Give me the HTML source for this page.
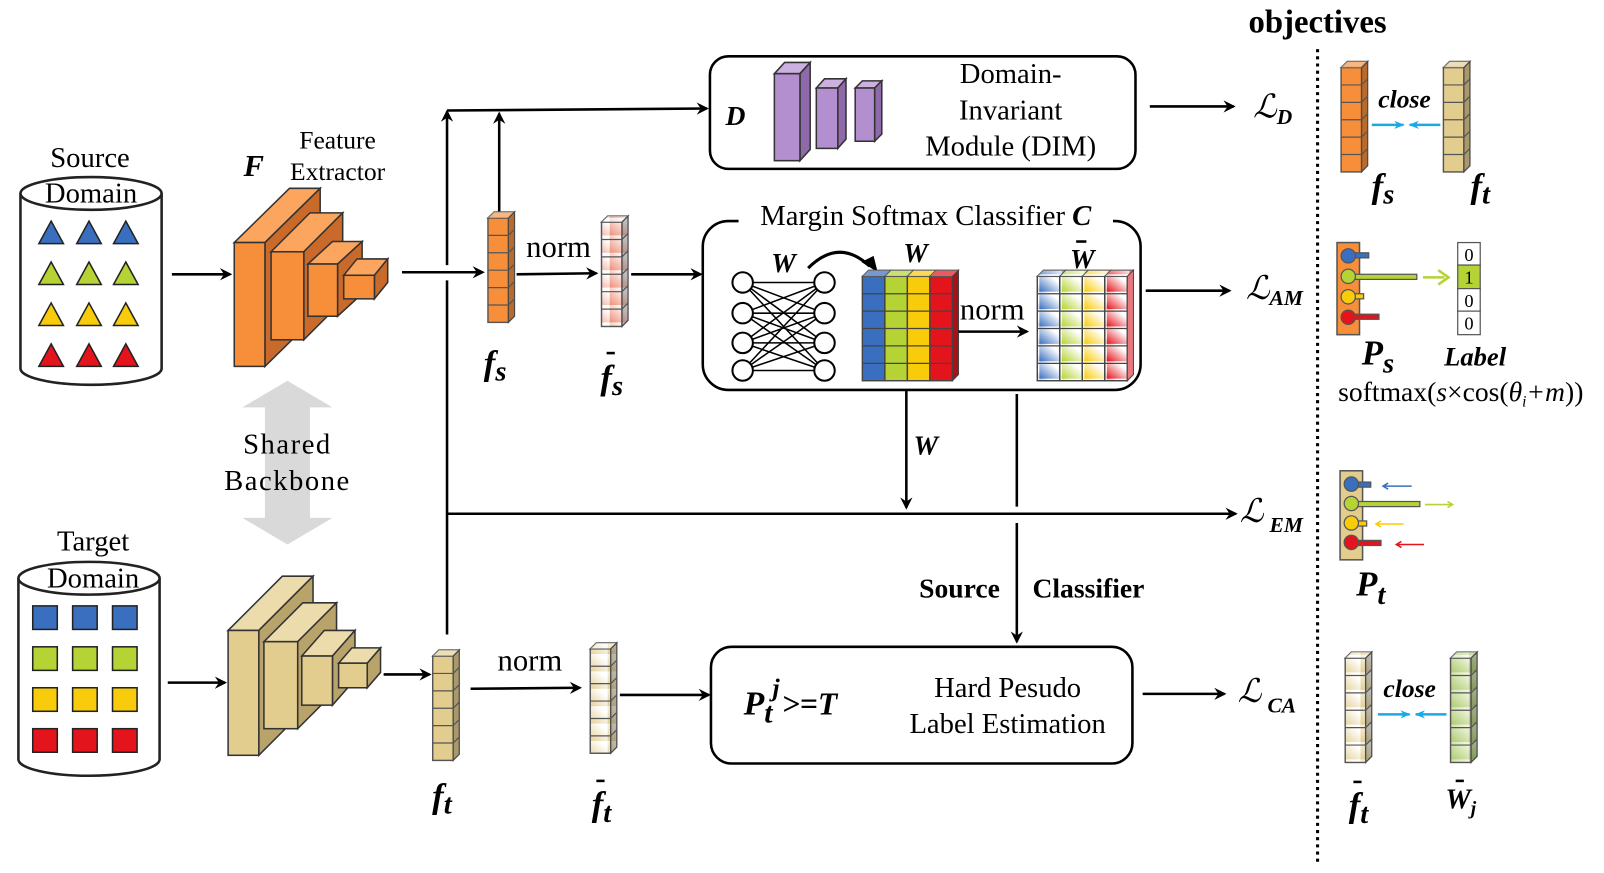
<!DOCTYPE html>
<html><head><meta charset="utf-8"><style>
html,body{margin:0;padding:0;background:#fff;}
svg{display:block;}
text{font-family:"Liberation Serif","Times New Roman",serif;fill:#000;}
.bi{font-weight:bold;font-style:italic;}
.b{font-weight:bold;}
</style></head><body>
<svg width="1604" height="873" viewBox="0 0 1568 853" preserveAspectRatio="none" xmlns="http://www.w3.org/2000/svg">
<defs>
<marker id="ah" markerWidth="12" markerHeight="12" refX="10" refY="6" orient="auto" markerUnits="userSpaceOnUse">
<path d="M0,0 L12,6 L0,12 L4,6 Z" fill="#000"/></marker>
<marker id="ahb" markerWidth="10" markerHeight="8" refX="9" refY="4" orient="auto" markerUnits="userSpaceOnUse">
<path d="M0,0 L10,4 L0,8 L3,4 Z" fill="#19a9e6"/></marker>
<symbol id="col" overflow="visible">
<rect x="0" y="0" width="20" height="102" stroke="#555" stroke-width="1.4"/>
<polygon points="0,0 6,-6 26,-6 20,0" stroke="#555" stroke-width="1.2"/>
<polygon points="0,0 6,-6 26,-6 20,0" fill="#fff" fill-opacity=".35"/>
<polygon points="20,0 26,-6 26,96 20,102" stroke="#555" stroke-width="1.2"/>
<polygon points="20,0 26,-6 26,96 20,102" fill="#000" fill-opacity=".25"/>
<path d="M0,17H20M0,34H20M0,51H20M0,68H20M0,85H20M20,17l6,-6M20,34l6,-6M20,51l6,-6M20,68l6,-6M20,85l6,-6" stroke="#555" stroke-width="1.2" fill="none"/>
</symbol>
<symbol id="mcol" overflow="visible">
<rect x="0" y="0" width="22" height="102" stroke="#444" stroke-width="1.4"/>
<polygon points="0,0 6,-6 28,-6 22,0" stroke="#444" stroke-width="1"/>
<polygon points="0,0 6,-6 28,-6 22,0" fill="#fff" fill-opacity=".3"/>
<path d="M0,17H22M0,34H22M0,51H22M0,68H22M0,85H22" stroke="#444" stroke-width="1.2" fill="none"/>
</symbol>
<linearGradient id="gB" x1="0" y1="1" x2="1" y2="0"><stop offset="0" stop-color="#3a6fbf"/><stop offset=".7" stop-color="#fff"/></linearGradient>
<linearGradient id="gG" x1="0" y1="1" x2="1" y2="0"><stop offset="0" stop-color="#b5d334"/><stop offset=".7" stop-color="#fff"/></linearGradient>
<linearGradient id="gY" x1="0" y1="1" x2="1" y2="0"><stop offset="0" stop-color="#f8cc0a"/><stop offset=".7" stop-color="#fff"/></linearGradient>
<linearGradient id="gR" x1="0" y1="1" x2="1" y2="0"><stop offset="0" stop-color="#e4141d"/><stop offset=".7" stop-color="#fff"/></linearGradient>
<linearGradient id="gS" x1="0" y1="1" x2="1" y2="0"><stop offset="0" stop-color="#ee8f77"/><stop offset=".8" stop-color="#fff"/></linearGradient>
<linearGradient id="gT" x1="0" y1="1" x2="1" y2="0"><stop offset="0" stop-color="#e2cc8e"/><stop offset=".8" stop-color="#fff"/></linearGradient>
<pattern id="pB" patternUnits="userSpaceOnUse" x="1014" y="270" width="22" height="17"><rect width="22" height="17" fill="url(#gB)"/></pattern>
<pattern id="pG" patternUnits="userSpaceOnUse" x="1036" y="270" width="22" height="17"><rect width="22" height="17" fill="url(#gG)"/></pattern>
<pattern id="pY" patternUnits="userSpaceOnUse" x="1058" y="270" width="22" height="17"><rect width="22" height="17" fill="url(#gY)"/></pattern>
<pattern id="pR" patternUnits="userSpaceOnUse" x="1080" y="270" width="22" height="17"><rect width="22" height="17" fill="url(#gR)"/></pattern>
<pattern id="pS" patternUnits="userSpaceOnUse" x="588" y="217" width="20" height="17"><rect width="20" height="17" fill="url(#gS)"/></pattern>
<pattern id="pT" patternUnits="userSpaceOnUse" x="577" y="634" width="20" height="17"><rect width="20" height="17" fill="url(#gT)"/></pattern>
<pattern id="pT2" patternUnits="userSpaceOnUse" x="1315" y="643" width="20" height="17"><rect width="20" height="17" fill="url(#gT)"/></pattern>
<linearGradient id="gW" x1="0" y1="1" x2="1" y2="0"><stop offset="0" stop-color="#a9c86a"/><stop offset=".9" stop-color="#eef5dc"/></linearGradient>
<pattern id="pW" patternUnits="userSpaceOnUse" x="1418" y="643" width="20" height="17"><rect width="20" height="17" fill="url(#gW)"/></pattern>
</defs>

<!-- Source domain -->
<text x="88" y="163" font-size="28" text-anchor="middle">Source</text>
<path d="M20,189 V360 A69,16 0 0 0 158,360 V189" fill="#fff" stroke="#222" stroke-width="2.5"/>
<ellipse cx="89" cy="189" rx="69" ry="16" fill="#fff" stroke="#222" stroke-width="2.5"/>
<text x="89" y="198" font-size="28" text-anchor="middle">Domain</text>
<g stroke="#222" stroke-width="1.5">
<g fill="#3a6fbf"><polygon points="38,238 50,216 62,238"/><polygon points="75,238 87,216 99,238"/><polygon points="111,238 123,216 135,238"/></g>
<g fill="#b5d334"><polygon points="38,278 50,256 62,278"/><polygon points="75,278 87,256 99,278"/><polygon points="111,278 123,256 135,278"/></g>
<g fill="#f8cc0a"><polygon points="38,318 50,296 62,318"/><polygon points="75,318 87,296 99,318"/><polygon points="111,318 123,296 135,318"/></g>
<g fill="#e4141d"><polygon points="38,358 50,336 62,358"/><polygon points="75,358 87,336 99,358"/><polygon points="111,358 123,336 135,358"/></g>
</g>
<line x1="168" y1="268" x2="225" y2="268" stroke="#000" stroke-width="2.5" marker-end="url(#ah)"/>

<!-- Orange extractor -->
<g stroke="#333" stroke-width="1.5">
<polygon points="229,237 283,184 313,184 259,237" fill="#fba55f"/><polygon points="259,237 313,184 313,305 259,358" fill="#c9692a"/><rect x="229" y="237" width="30" height="121" fill="#f78f3a"/>
<polygon points="265,246 303,208 335,208 297,246" fill="#fba55f"/><polygon points="297,246 335,208 335,294 297,332" fill="#c9692a"/><rect x="265" y="246" width="32" height="86" fill="#f78f3a"/>
<polygon points="301,258 325,236 354,236 330,258" fill="#fba55f"/><polygon points="330,258 354,236 354,287 330,309" fill="#c9692a"/><rect x="301" y="258" width="29" height="51" fill="#f78f3a"/>
<polygon points="336,269 349,253 379,253 366,269" fill="#fba55f"/><polygon points="366,269 379,253 379,276 366,292" fill="#c9692a"/><rect x="336" y="269" width="30" height="23" fill="#f78f3a"/>
</g>
<text x="248" y="172" font-size="30" class="bi" text-anchor="middle">F</text>
<text x="330" y="145" font-size="25" text-anchor="middle">Feature</text>
<text x="330" y="176" font-size="25" text-anchor="middle">Extractor</text>

<!-- Shared backbone -->
<polygon points="281,372 325,398 303,398 303,506 325,506 281,532 237,506 259,506 259,398 237,398" fill="#d9d9d9"/>
<text x="281" y="443" font-size="28" text-anchor="middle" letter-spacing="1.5">Shared</text>
<text x="281" y="479" font-size="28" text-anchor="middle" letter-spacing="1.5">Backbone</text>

<!-- Target domain -->
<text x="91" y="538" font-size="28" text-anchor="middle">Target</text>
<path d="M18,565 V742 A69,16 0 0 0 156,742 V565" fill="#fff" stroke="#222" stroke-width="2.5"/>
<ellipse cx="87" cy="565" rx="69" ry="16" fill="#fff" stroke="#222" stroke-width="2.5"/>
<text x="91" y="574" font-size="28" text-anchor="middle">Domain</text>
<g stroke="#222" stroke-width="1.5">
<g fill="#3a6fbf"><rect x="32" y="592" width="24" height="23"/><rect x="71" y="592" width="24" height="23"/><rect x="110" y="592" width="24" height="23"/></g>
<g fill="#b5d334"><rect x="32" y="632" width="24" height="23"/><rect x="71" y="632" width="24" height="23"/><rect x="110" y="632" width="24" height="23"/></g>
<g fill="#f8cc0a"><rect x="32" y="672" width="24" height="23"/><rect x="71" y="672" width="24" height="23"/><rect x="110" y="672" width="24" height="23"/></g>
<g fill="#e4141d"><rect x="32" y="712" width="24" height="23"/><rect x="71" y="712" width="24" height="23"/><rect x="110" y="712" width="24" height="23"/></g>
</g>
<line x1="164" y1="667" x2="220" y2="667" stroke="#000" stroke-width="2.5" marker-end="url(#ah)"/>

<!-- Tan extractor -->
<g stroke="#333" stroke-width="1.5">
<polygon points="223,616 276,563 306,563 253,616" fill="#ecdcac"/><polygon points="253,616 306,563 306,685 253,738" fill="#b8a36b"/><rect x="223" y="616" width="30" height="122" fill="#e2cc8e"/>
<polygon points="258,627 296,589 329,589 291,627" fill="#ecdcac"/><polygon points="291,627 329,589 329,674 291,712" fill="#b8a36b"/><rect x="258" y="627" width="33" height="85" fill="#e2cc8e"/>
<polygon points="295,641 317,616 347,616 325,641" fill="#ecdcac"/><polygon points="325,641 347,616 347,664 325,689" fill="#b8a36b"/><rect x="295" y="641" width="30" height="48" fill="#e2cc8e"/>
<polygon points="331,648 344,633 372,633 359,648" fill="#ecdcac"/><polygon points="359,648 372,633 372,657 359,672" fill="#b8a36b"/><rect x="331" y="648" width="28" height="24" fill="#e2cc8e"/>
</g>
<line x1="375" y1="659" x2="420" y2="659" stroke="#000" stroke-width="2.5" marker-end="url(#ah)"/>

<!-- connectors -->
<g stroke="#000" stroke-width="2.5" fill="none">
<line x1="393" y1="266" x2="472" y2="266" marker-end="url(#ah)"/>
<line x1="437" y1="620" x2="437" y2="274"/>
<line x1="437" y1="259" x2="437" y2="109" marker-end="url(#ah)"/>
<line x1="437" y1="108" x2="691" y2="106" marker-end="url(#ah)"/>
<line x1="488" y1="210" x2="488" y2="111" marker-end="url(#ah)"/>
<line x1="437" y1="502" x2="1208" y2="502" marker-end="url(#ah)"/>
<line x1="505" y1="268" x2="583" y2="267" marker-end="url(#ah)"/>
<line x1="617" y1="268" x2="685" y2="268" marker-end="url(#ah)"/>
<line x1="1124" y1="104" x2="1206" y2="104" marker-end="url(#ah)"/>
<line x1="1120" y1="284" x2="1202" y2="284" marker-end="url(#ah)"/>
<line x1="886" y1="382" x2="886" y2="496" marker-end="url(#ah)"/>
<line x1="994" y1="385" x2="994" y2="495"/>
<line x1="994" y1="511" x2="994" y2="627" marker-end="url(#ah)"/>
<line x1="1117" y1="678" x2="1197" y2="678" marker-end="url(#ah)"/>
<line x1="460" y1="673" x2="567" y2="672" marker-end="url(#ah)"/>
<line x1="606" y1="679" x2="693" y2="679" marker-end="url(#ah)"/>
</g>

<!-- feature columns -->
<use href="#col" x="477" y="213" fill="#f78f3a"/>
<text x="484" y="366" font-size="34" class="bi" text-anchor="middle">f<tspan font-size="28" dy="6">s</tspan></text>
<text x="546" y="251" font-size="30" text-anchor="middle">norm</text>
<use href="#col" x="588" y="217" fill="url(#pS)"/>
<text x="598" y="380" font-size="34" class="bi" text-anchor="middle">f<tspan font-size="28" dy="6">s</tspan></text>
<line x1="593" y1="345" x2="601" y2="345" stroke="#000" stroke-width="2.5"/>

<use href="#col" x="423" y="641" fill="#e2cc8e"/>
<text x="432" y="789" font-size="34" class="bi" text-anchor="middle">f<tspan font-size="28" dy="6">t</tspan></text>
<text x="518" y="655" font-size="30" text-anchor="middle">norm</text>
<use href="#col" x="577" y="634" fill="url(#pT)"/>
<text x="588" y="797" font-size="34" class="bi" text-anchor="middle">f<tspan font-size="28" dy="6">t</tspan></text>
<line x1="583" y1="763" x2="591" y2="763" stroke="#000" stroke-width="2.5"/>

<!-- D box -->
<rect x="694" y="55" width="416" height="110" rx="18" fill="#fff" stroke="#000" stroke-width="2.5"/>
<text x="719" y="122" font-size="27" class="bi" text-anchor="middle">D</text>
<g stroke="#333" stroke-width="1.5">
<polygon points="757,72 767,61 792,61 782,72" fill="#cbb0e0"/><polygon points="782,72 792,61 792,146 782,157" fill="#8f6aab"/><rect x="757" y="72" width="25" height="85" fill="#b48fd0"/>
<polygon points="798,86 806,77 827,77 819,86" fill="#cbb0e0"/><polygon points="819,86 827,77 827,136 819,145" fill="#8f6aab"/><rect x="798" y="86" width="21" height="59" fill="#b48fd0"/>
<polygon points="836,86 843,79 862,79 855,86" fill="#cbb0e0"/><polygon points="855,86 862,79 862,131 855,138" fill="#8f6aab"/><rect x="836" y="86" width="19" height="52" fill="#b48fd0"/>
</g>
<text x="988" y="81" font-size="28" text-anchor="middle">Domain-</text>
<text x="988" y="117" font-size="28" text-anchor="middle">Invariant</text>
<text x="988" y="152" font-size="28" text-anchor="middle">Module (DIM)</text>

<!-- Classifier box -->
<rect x="687" y="216" width="428" height="165" rx="25" fill="#fff" stroke="#000" stroke-width="2.5"/>
<rect x="722" y="198" width="366" height="26" fill="#fff"/>
<text x="905" y="220" font-size="28" text-anchor="middle">Margin Softmax Classifier <tspan class="bi">C</tspan></text>
<g stroke="#000" stroke-width="1.5">
<path d="M726,276L806,276M726,276L806,306M726,276L806,335M726,276L806,362M726,306L806,276M726,306L806,306M726,306L806,335M726,306L806,362M726,335L806,276M726,335L806,306M726,335L806,335M726,335L806,362M726,362L806,276M726,362L806,306M726,362L806,335M726,362L806,362"/>
<g fill="#fff" stroke-width="2"><circle cx="726" cy="276" r="10"/><circle cx="726" cy="306" r="10"/><circle cx="726" cy="335" r="10"/><circle cx="726" cy="362" r="10"/><circle cx="806" cy="276" r="10"/><circle cx="806" cy="306" r="10"/><circle cx="806" cy="335" r="10"/><circle cx="806" cy="362" r="10"/></g>
</g>
<text x="766" y="266" font-size="27" class="bi" text-anchor="middle">W</text>
<path d="M790,262 Q820,232 850,260" fill="none" stroke="#000" stroke-width="3"/>
<polygon points="842,256 858,266 854,250" fill="#000"/>
<use href="#mcol" x="843" y="270" fill="#3a6fbf"/>
<use href="#mcol" x="865" y="270" fill="#b5d334"/>
<use href="#mcol" x="887" y="270" fill="#f8cc0a"/>
<use href="#mcol" x="909" y="270" fill="#e4141d"/>
<polygon points="931,270 937,264 937,366 931,372" fill="#a8101a" stroke="#444" stroke-width="1"/>
<text x="895" y="256" font-size="27" class="bi" text-anchor="middle">W</text>
<text x="970" y="312" font-size="30" text-anchor="middle">norm</text>
<line x1="937" y1="324" x2="1004" y2="324" stroke="#000" stroke-width="2.5" marker-end="url(#ah)"/>
<use href="#mcol" x="1014" y="270" fill="url(#pB)"/>
<use href="#mcol" x="1036" y="270" fill="url(#pG)"/>
<use href="#mcol" x="1058" y="270" fill="url(#pY)"/>
<use href="#mcol" x="1080" y="270" fill="url(#pR)"/>
<polygon points="1102,270 1108,264 1108,366 1102,372" fill="#e9797e" stroke="#444" stroke-width="1"/>
<text x="1058" y="262" font-size="27" class="bi" text-anchor="middle">W</text>
<line x1="1052" y1="236" x2="1062" y2="236" stroke="#000" stroke-width="2.5"/>
<text x="905" y="444" font-size="27" class="bi" text-anchor="middle">W</text>
<text x="938" y="584" font-size="27" class="b" text-anchor="middle">Source</text>
<text x="1064" y="584" font-size="27" class="b" text-anchor="middle">Classifier</text>

<!-- Hard box -->
<rect x="695" y="632" width="412" height="114" rx="20" fill="#fff" stroke="#000" stroke-width="2.5"/>
<text x="727" y="698" font-size="33" class="bi">P<tspan font-size="29" dy="8">t</tspan><tspan font-size="25" dy="-26">j</tspan><tspan font-size="31" dy="18" dx="2">&gt;=T</tspan></text>
<text x="985" y="681" font-size="28" text-anchor="middle">Hard Pesudo</text>
<text x="985" y="716" font-size="28" text-anchor="middle">Label Estimation</text>

<!-- losses -->
<text x="1225" y="115" font-size="32" font-style="italic" font-family="DejaVu Serif,serif">ℒ<tspan font-size="21" dy="6" class="bi">D</tspan></text>
<text x="1218" y="292" font-size="32" font-style="italic" font-family="DejaVu Serif,serif">ℒ<tspan font-size="21" dy="6" class="bi">AM</tspan></text>
<text x="1212" y="510" font-size="32" font-style="italic" font-family="DejaVu Serif,serif">ℒ<tspan font-size="21" dy="10" dx="6" class="bi">EM</tspan></text>
<text x="1210" y="686" font-size="32" font-style="italic" font-family="DejaVu Serif,serif">ℒ<tspan font-size="21" dy="10" dx="6" class="bi">CA</tspan></text>

<!-- objectives -->
<text x="1288" y="32" font-size="32" class="b" text-anchor="middle">objectives</text>
<line x1="1288" y1="48" x2="1288" y2="842" stroke="#000" stroke-width="3" stroke-dasharray="3,4"/>
<use href="#col" x="1311" y="66" fill="#f78f3a"/>
<use href="#col" x="1411" y="66" fill="#e2cc8e"/>
<text x="1373" y="105" font-size="25" class="bi" text-anchor="middle">close</text>
<line x1="1341" y1="122" x2="1372" y2="122" stroke="#19a9e6" stroke-width="2.5" marker-end="url(#ahb)"/>
<line x1="1408" y1="122" x2="1378" y2="122" stroke="#19a9e6" stroke-width="2.5" marker-end="url(#ahb)"/>
<text x="1352" y="193" font-size="34" class="bi" text-anchor="middle">f<tspan font-size="28" dy="6">s</tspan></text>
<text x="1447" y="193" font-size="34" class="bi" text-anchor="middle">f<tspan font-size="28" dy="6">t</tspan></text>

<!-- Ps -->
<rect x="1307" y="237" width="22" height="90" fill="#f78f3a" stroke="#555" stroke-width="1.5"/>
<g stroke="#555" stroke-width="1.2">
<rect x="1318" y="247" width="20" height="5" fill="#3a6fbf"/><circle cx="1318" cy="250" r="7" fill="#3a6fbf"/>
<rect x="1318" y="268" width="67" height="5" fill="#b5d334"/><circle cx="1318" cy="270" r="7" fill="#b5d334"/>
<rect x="1318" y="287" width="15" height="5" fill="#f8cc0a"/><circle cx="1318" cy="290" r="7" fill="#f8cc0a"/>
<rect x="1318" y="307" width="30" height="5" fill="#e4141d"/><circle cx="1318" cy="310" r="7" fill="#e4141d"/>
</g>
<path d="M1391,271 H1412 M1406,264 L1416,271 L1406,278" stroke="#b5d334" stroke-width="2.5" fill="none"/>
<g stroke="#555" stroke-width="1.2">
<rect x="1425" y="237" width="22" height="22" fill="#fff"/><rect x="1425" y="259" width="22" height="23" fill="#b5d334"/><rect x="1425" y="282" width="22" height="22" fill="#fff"/><rect x="1425" y="304" width="22" height="23" fill="#fff"/>
</g>
<g font-size="18" text-anchor="middle" fill="#333"><text x="1436" y="255">0</text><text x="1436" y="277">1</text><text x="1436" y="300">0</text><text x="1436" y="322">0</text></g>
<text x="1347" y="356" font-size="34" class="bi" text-anchor="middle">P<tspan font-size="28" dy="8">s</tspan></text>
<text x="1442" y="357" font-size="26" class="bi" text-anchor="middle">Label</text>
<text x="1428" y="392" font-size="27" text-anchor="middle">softmax(<tspan font-style="italic">s</tspan>×cos(<tspan font-style="italic">θ<tspan font-size="15" dy="5">i</tspan><tspan dy="-5">+m</tspan></tspan>))</text>

<!-- Pt -->
<rect x="1310" y="460" width="22" height="87" fill="#e2cc8e" stroke="#555" stroke-width="1.5"/>
<g stroke="#555" stroke-width="1.2">
<rect x="1321" y="471" width="19" height="5" fill="#3a6fbf"/><circle cx="1321" cy="473" r="7" fill="#3a6fbf"/>
<rect x="1321" y="490" width="67" height="5" fill="#b5d334"/><circle cx="1321" cy="492" r="7" fill="#b5d334"/>
<rect x="1321" y="509" width="15" height="5" fill="#f8cc0a"/><circle cx="1321" cy="511" r="7" fill="#f8cc0a"/>
<rect x="1321" y="528" width="29" height="5" fill="#e4141d"/><circle cx="1321" cy="530" r="7" fill="#e4141d"/>
</g>
<g stroke-width="1.5" fill="none">
<path d="M1380,475H1352M1357,472L1352,475L1357,478" stroke="#3a6fbf"/>
<path d="M1393,493H1420M1415,490L1420,493L1415,496" stroke="#b5d334"/>
<path d="M1372,512H1345M1350,509L1345,512L1350,515" stroke="#f8cc0a"/>
<path d="M1392,532H1365M1370,529L1365,532L1370,535" stroke="#e4141d"/>
</g>
<text x="1340" y="582" font-size="34" class="bi" text-anchor="middle">P<tspan font-size="28" dy="8">t</tspan></text>

<!-- CA objective -->
<use href="#col" x="1315" y="643" fill="url(#pT2)"/>
<use href="#col" x="1418" y="643" fill="url(#pW)"/>
<text x="1378" y="681" font-size="25" class="bi" text-anchor="middle">close</text>
<line x1="1347" y1="698" x2="1378" y2="698" stroke="#19a9e6" stroke-width="2.5" marker-end="url(#ahb)"/>
<line x1="1414" y1="698" x2="1384" y2="698" stroke="#19a9e6" stroke-width="2.5" marker-end="url(#ahb)"/>
<text x="1328" y="798" font-size="34" class="bi" text-anchor="middle">f<tspan font-size="28" dy="6">t</tspan></text>
<line x1="1323" y1="764" x2="1331" y2="764" stroke="#000" stroke-width="2.5"/>
<text x="1428" y="790" font-size="28" class="bi" text-anchor="middle">W<tspan font-size="19" dy="6">j</tspan></text>
<line x1="1423" y1="763" x2="1431" y2="763" stroke="#000" stroke-width="2.5"/>
</svg>
</body></html>
